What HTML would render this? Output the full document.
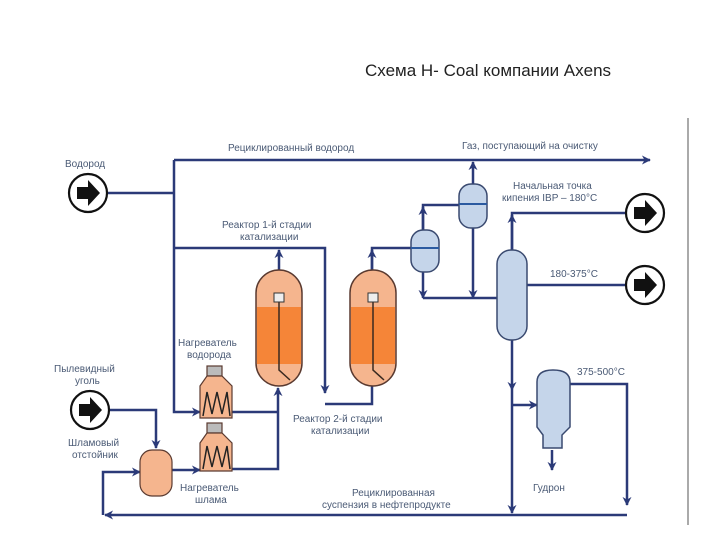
<!DOCTYPE html>
<html><head><meta charset="utf-8"><style>
html,body{margin:0;padding:0;background:#fff}
svg text{font-family:"Liberation Sans",sans-serif;fill:#4a5a75;font-size:10px}
</style></head><body>
<svg width="720" height="540" viewBox="0 0 720 540" xmlns="http://www.w3.org/2000/svg">
<defs>
<marker id="a" viewBox="0 0 10 10" refX="9" refY="5" markerWidth="9" markerHeight="9" markerUnits="userSpaceOnUse" orient="auto"><path d="M0,0L10,5L0,10L3,5z" fill="#2b3a78"/></marker>
<g id="circ"><circle r="19" fill="#fff" stroke="#111" stroke-width="2.2"/><path d="M-11,-6H0V-13L12,0L0,13V6H-11Z" fill="#111"/></g>
</defs>
<text x="365" y="76" style="font-size:17px;fill:#222">Схема H- Coal компании Axens</text>
<line x1="688" y1="118" x2="688" y2="525" stroke="#aaa" stroke-width="2"/>
<g fill="none" stroke="#2b3a78" stroke-width="2.5">
<path d="M174,160H650" marker-end="url(#a)"/>
<path d="M108,193H174M174,160V412H200" marker-end="url(#a)"/>
<path d="M174,248H325V393" marker-end="url(#a)"/>
<path d="M325,404H372V386"/>
<path d="M279,270V250" marker-end="url(#a)"/>
<path d="M372,270V248H411"/>
<path d="M372,270V250" marker-end="url(#a)"/>
<path d="M423,230V205H459"/>
<path d="M423,230V207" marker-end="url(#a)"/>
<path d="M473,184V162" marker-end="url(#a)"/>
<path d="M473,228V298" marker-end="url(#a)"/>
<path d="M423,272V298" marker-end="url(#a)"/>
<path d="M423,298H497"/>
<path d="M512,250V213H626"/>
<path d="M512,250V215" marker-end="url(#a)"/>
<path d="M527,285H626"/>
<path d="M512,340V390" marker-end="url(#a)"/>
<path d="M512,390V513" marker-end="url(#a)"/>
<path d="M512,405H537" marker-end="url(#a)"/>
<path d="M570,384H627V505" marker-end="url(#a)"/>
<path d="M552,450V470" marker-end="url(#a)"/>
<path d="M627,515H105" marker-end="url(#a)"/>
<path d="M103,515V472H140" marker-end="url(#a)"/>
<path d="M110,410H156V448" marker-end="url(#a)"/>
<path d="M172,470H200" marker-end="url(#a)"/>
<path d="M232,412H278M232,469H278V388" marker-end="url(#a)"/>
</g>
<g stroke="#5a3a30" stroke-width="1.5">
<rect x="256" y="270" width="46" height="116" rx="23" fill="#f5b58e"/>
<rect x="350" y="270" width="46" height="116" rx="23" fill="#f5b58e"/>
</g>
<rect x="257" y="307" width="44" height="57" fill="#f58538"/>
<rect x="351" y="307" width="44" height="57" fill="#f58538"/>
<g fill="none" stroke="#3a2a20" stroke-width="1.5">
<path d="M279,300V370L290,380"/><path d="M373,300V370L384,380"/>
</g>
<rect x="274" y="293" width="10" height="9" fill="#eee" stroke="#333"/>
<rect x="368" y="293" width="10" height="9" fill="#eee" stroke="#333"/>
<g fill="#c5d5ea" stroke="#3a4a70" stroke-width="1.5">
<rect x="411" y="230" width="28" height="42" rx="12"/>
<rect x="459" y="184" width="28" height="44" rx="12"/>
<rect x="497" y="250" width="30" height="90" rx="14"/>
<path d="M537,382Q537,370 553,370Q570,370 570,382V427L562,435V448H543V435L537,427Z"/>
</g>
<g stroke="#2b5aa0" stroke-width="2"><line x1="411" y1="248" x2="439" y2="248"/><line x1="459" y1="204" x2="487" y2="204"/></g>
<g fill="#f5b58e" stroke="#5a3a30" stroke-width="1.2">
<rect x="207" y="366" width="15" height="10" fill="#bbb"/>
<path d="M207,376H222L232,386V418H200V386Z"/>
<rect x="207" y="423" width="15" height="10" fill="#bbb"/>
<path d="M207,433H222L232,443V471H200V443Z"/>
<rect x="140" y="450" width="32" height="46" rx="12"/>
</g>
<g fill="none" stroke="#222" stroke-width="1.5">
<path d="M203,416L207,392L212,414L217,392L222,414L227,392L230,416"/>
<path d="M203,469L207,446L212,467L217,446L222,467L227,446L230,469"/>
</g>
<use href="#circ" x="88" y="193"/>
<use href="#circ" x="90" y="410"/>
<use href="#circ" x="645" y="213"/>
<use href="#circ" x="645" y="285"/>
<text x="65" y="167">Водород</text>
<text x="228" y="151">Рециклированный водород</text>
<text x="462" y="149">Газ, поступающий на очистку</text>
<text x="222" y="228">Реактор 1-й стадии</text>
<text x="240" y="240">катализации</text>
<text x="513" y="189">Начальная точка</text>
<text x="502" y="201">кипения IBP – 180°C</text>
<text x="550" y="277">180-375°C</text>
<text x="577" y="375">375-500°C</text>
<text x="178" y="346">Нагреватель</text>
<text x="187" y="358">водорода</text>
<text x="54" y="372">Пылевидный</text>
<text x="75" y="384">уголь</text>
<text x="68" y="446">Шламовый</text>
<text x="72" y="458">отстойник</text>
<text x="293" y="422">Реактор 2-й стадии</text>
<text x="311" y="434">катализации</text>
<text x="180" y="491">Нагреватель</text>
<text x="195" y="503">шлама</text>
<text x="352" y="496">Рециклированная</text>
<text x="322" y="508">суспензия в нефтепродукте</text>
<text x="533" y="491">Гудрон</text>
</svg>
</body></html>
